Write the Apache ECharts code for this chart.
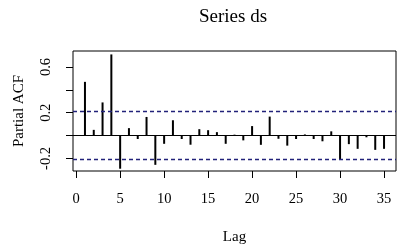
<!DOCTYPE html>
<html><head><meta charset="utf-8">
<script src="https://cdn.jsdelivr.net/npm/echarts@6/dist/echarts.min.js"></script>
<style>html,body{margin:0;padding:0;background:#fff}#c{width:401px;height:247px}</style>
</head><body><div id="c"></div>
<script>
var lags = [1,2,3,4,5,6,7,8,9,10,11,12,13,14,15,16,17,18,19,20,21,22,23,24,25,26,27,28,29,30,31,32,33,34,35];
var pacf = [0.47,0.05,0.29,0.71,-0.29,0.065,-0.03,0.163,-0.256,-0.072,0.134,-0.03,-0.08,0.056,0.047,0.03,-0.072,0.008,-0.042,0.083,-0.081,0.166,-0.028,-0.088,-0.03,0.01,-0.03,-0.05,0.037,-0.212,-0.075,-0.116,-0.015,-0.125,-0.116];
var ci = 0.21;
var xTicks = [0,5,10,15,20,25,30,35];
var yTicks = [-0.2,0,0.2,0.4,0.6];
var yLabels = [-0.2,0.2,0.6];

var font = 'Liberation Serif';
var chart = echarts.init(document.getElementById('c'), null, {renderer:'canvas'});
chart.setOption({
  animation:false,
  title:{text:'Series ds', left:228, top:3, textAlign:'center',
    textStyle:{fontFamily:font, fontSize:19, fontWeight:'normal', color:'#000'}},
  grid:{left:73, right:5, top:51, bottom:76, show:true, borderColor:'#000', borderWidth:1, backgroundColor:'transparent'},
  xAxis:{type:'value', min:-0.36, max:36.36,
    name:'Lag', nameLocation:'middle', nameGap:59,
    nameTextStyle:{fontFamily:font, fontSize:15, color:'#000'},
    axisLine:{show:false, onZero:false}, splitLine:{show:false},
    axisTick:{show:true, length:7, inside:false, lineStyle:{color:'#000'}, customValues:xTicks},
    axisLabel:{fontFamily:font, fontSize:14.5, color:'#000', margin:21, customValues:xTicks, formatter:function(v){return String(v);}}
  },
  yAxis:{type:'value', min:-0.31, max:0.74,
    name:'Partial ACF', nameLocation:'middle', nameGap:46, nameRotate:90,
    nameTextStyle:{fontFamily:font, fontSize:15, color:'#000'},
    axisLine:{show:false, onZero:false}, splitLine:{show:false},
    axisTick:{show:true, length:7, inside:false, lineStyle:{color:'#000'}, customValues:yTicks},
    axisLabel:{fontFamily:font, fontSize:14.5, color:'#000', margin:27, rotate:90, customValues:yLabels,
      verticalAlign:'middle', align:'center', formatter:function(v){return String(Math.round(v*10)/10);}}
  },
  series:[{
    type:'bar', barWidth:2,
    data: lags.map(function(l,i){return [l,pacf[i]];}),
    itemStyle:{color:'#000'},
    markLine:{silent:true, symbol:'none', label:{show:false},
      data:[
        {yAxis:0, lineStyle:{color:'#000', type:'solid', width:1}},
        {yAxis:ci, lineStyle:{color:'#22227a', type:[4,3], width:1.3}},
        {yAxis:-ci, lineStyle:{color:'#22227a', type:[4,3], width:1.3}}
      ]}
  }]
});
</script></body></html>
